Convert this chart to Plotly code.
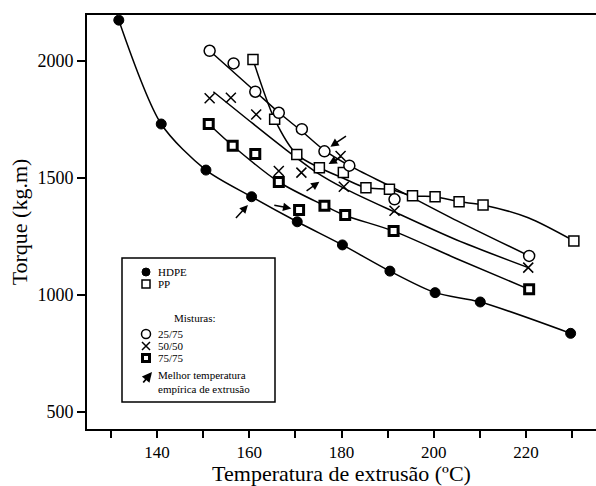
import plotly.graph_objects as go

FONT = "Liberation Serif"

# ---- data ----
hdpe_T = [131.7, 140.9, 150.6, 160.5, 170.4, 180.2, 190.5, 200.3, 210.1, 229.7]
hdpe_tq = [2175, 1731, 1534, 1420, 1313, 1214, 1102, 1010, 970, 836]

pp_T = [160.8, 165.5, 170.3, 175.2, 180.4, 185.3, 190.4, 195.4, 200.3, 205.5, 210.7, 230.4]
pp_tq = [2007, 1751, 1601, 1544, 1524, 1458, 1452, 1424, 1420, 1399, 1385, 1231]
pp_fit_T = [160.8, 165.5, 170.3, 175.2, 180.3, 185.3, 190.4, 195.4, 200.3, 205.5, 210.7, 220.5, 230.4]
pp_fit_tq = [2007, 1751, 1601, 1544, 1500, 1458, 1452, 1424, 1420, 1399, 1385, 1330, 1231]

m2575_T = [151.4, 156.6, 161.3, 166.4, 171.4, 176.3, 181.7, 191.5, 220.7]
m2575_tq = [2044, 1990, 1869, 1779, 1709, 1614, 1553, 1409, 1167]
m2575_fit_T = [151.4, 161.3, 166.4, 171.4, 176.3, 181.6, 191.5, 205.0, 220.7]
m2575_fit_tq = [2044, 1870, 1780, 1700, 1618, 1554, 1456, 1318, 1167]

m5050_T = [151.4, 156.0, 161.5, 166.4, 171.3, 179.8, 180.5, 191.5, 220.5]
m5050_tq = [1841, 1843, 1772, 1530, 1523, 1594, 1463, 1360, 1117]
m5050_fit_T = [152.2, 160.0, 167.7, 174.9, 180.6, 191.5, 205.0, 220.5]
m5050_fit_tq = [1869, 1745, 1625, 1520, 1456, 1355, 1235, 1117]

m7575_T = [151.2, 156.4, 161.3, 166.4, 170.8, 176.3, 180.8, 191.3, 220.7]
m7575_tq = [1731, 1638, 1603, 1483, 1363, 1382, 1342, 1273, 1024]
m7575_fit_T = [151.2, 156.4, 166.4, 176.3, 180.8, 191.3, 205.0, 220.7]
m7575_fit_tq = [1731, 1638, 1483, 1382, 1340, 1273, 1155, 1024]

# "best empirical extrusion temperature" arrows: head and tail (T, torque)
arrow_head_T = [177.6, 177.2, 175.2, 159.7, 169.1]
arrow_head_tq = [1634, 1560, 1484, 1385, 1370]
arrow_tail_T = [181.3, 180.2, 172.1, 156.8, 165.1]
arrow_tail_tq = [1684, 1594, 1441, 1323, 1385]

x_ticks = [130, 140, 150, 160, 170, 180, 190, 200, 210, 220, 230]
x_ticklabels = ["", "140", "", "160", "", "180", "", "200", "", "220", ""]
y_ticks = [500, 1000, 1500, 2000]

legend_labels = ["HDPE", "PP", "25/75", "50/50", "75/75"]

# ---- figure ----
fig = go.Figure()
LW = 1.5
line_style = dict(color="black", width=LW, shape="spline", smoothing=0.8)

for fx, fy in [(hdpe_T, hdpe_tq), (pp_fit_T, pp_fit_tq), (m2575_fit_T, m2575_fit_tq),
               (m5050_fit_T, m5050_fit_tq), (m7575_fit_T, m7575_fit_tq)]:
    fig.add_trace(go.Scatter(x=fx, y=fy, mode="lines", line=line_style,
                             hoverinfo="skip", showlegend=False))

sym_hdpe = dict(symbol="circle", size=10, color="black", line=dict(color="black", width=1))
sym_pp = dict(symbol="square", size=10, color="white", line=dict(color="black", width=1.5))
sym_2575 = dict(symbol="circle", size=11, color="white", line=dict(color="black", width=1.5))
sym_5050 = dict(symbol="x-thin", size=10, color="black", line=dict(color="black", width=1.5))
sym_7575 = dict(symbol="square", size=9, color="white", line=dict(color="black", width=3))

for (mx, my, sym, name) in [(hdpe_T, hdpe_tq, sym_hdpe, "HDPE"), (pp_T, pp_tq, sym_pp, "PP"),
                            (m2575_T, m2575_tq, sym_2575, "25/75"),
                            (m5050_T, m5050_tq, sym_5050, "50/50"),
                            (m7575_T, m7575_tq, sym_7575, "75/75")]:
    fig.add_trace(go.Scatter(x=mx, y=my, mode="markers", marker=sym, name=name,
                             showlegend=False))

# arrows
for hx, hy, tx, ty in zip(arrow_head_T, arrow_head_tq, arrow_tail_T, arrow_tail_tq):
    fig.add_annotation(x=hx, y=hy, ax=tx, ay=ty, xref="x", yref="y", axref="x", ayref="y",
                       text="", showarrow=True, arrowhead=2, arrowsize=1.1,
                       arrowwidth=1.5, arrowcolor="black", standoff=0)

# ---- hand-made legend box ----
def px_x(p):
    return (p - 87) / 509.0

def px_y(p):
    return (429 - p) / 414.0

fig.add_shape(type="rect", xref="paper", yref="paper",
              x0=px_x(122), x1=px_x(275), y0=px_y(402), y1=px_y(258),
              line=dict(color="black", width=1.5), fillcolor="white", layer="below")

LFS = 10
key_y = [272, 284, 334, 346, 358]
key_syms = [sym_hdpe, sym_pp, sym_2575, sym_5050, sym_7575]
for lab, ky, sym in zip(legend_labels, key_y, key_syms):
    s = dict(sym)
    s["size"] = max(sym["size"] - 2, 7)
    fig.add_trace(go.Scatter(x=[px_x(146)], y=[px_y(ky)], mode="markers", marker=s,
                             xaxis="x2", yaxis="y2", showlegend=False, hoverinfo="skip"))
    fig.add_annotation(x=px_x(156), y=px_y(ky), xref="paper", yref="paper", text=lab,
                       showarrow=False, xanchor="left", yanchor="middle",
                       font=dict(family=FONT, size=LFS + 1, color="black"))

fig.add_annotation(x=px_x(195), y=px_y(318), xref="paper", yref="paper", text="Misturas:",
                   showarrow=False, xanchor="center", yanchor="middle",
                   font=dict(family=FONT, size=LFS + 1, color="black"))
fig.add_annotation(x=px_x(156), y=px_y(382), xref="paper", yref="paper",
                   text="Melhor temperatura<br>empírica de extrusão",
                   showarrow=False, xanchor="left", yanchor="middle", align="left",
                   font=dict(family=FONT, size=LFS + 1, color="black"))
fig.add_annotation(x=px_x(152), y=px_y(372), xref="paper", yref="paper", text="",
                   showarrow=True, ax=-10, ay=12, arrowhead=2, arrowsize=1.1,
                   arrowwidth=1.8, arrowcolor="black", standoff=0)

fig.update_layout(
    width=596, height=486,
    margin=dict(l=87, r=0, t=15, b=57),
    paper_bgcolor="white", plot_bgcolor="white",
    font=dict(family=FONT, color="black"),
    showlegend=False,
    xaxis=dict(range=[124.8, 235.2], tickvals=x_ticks, ticktext=x_ticklabels,
               ticks="outside", ticklen=7, tickwidth=2, tickcolor="black",
               showline=True, linewidth=2, linecolor="black", mirror=True,
               showgrid=False, zeroline=False,
               tickfont=dict(family=FONT, size=17, color="black"),
               title=dict(text="Temperatura de extrusão (ºC)", standoff=2,
                          font=dict(family=FONT, size=22, color="black"))),
    yaxis=dict(range=[427, 2197], tickvals=y_ticks,
               ticks="outside", ticklen=8, tickwidth=2, tickcolor="black",
               showline=True, linewidth=2, linecolor="black", mirror=False,
               showgrid=False, zeroline=False,
               tickfont=dict(family=FONT, size=18, color="black"),
               title=dict(text="Torque (kg.m)", standoff=4,
                          font=dict(family=FONT, size=22, color="black"))),
    xaxis2=dict(overlaying="x", range=[0, 1], visible=False, anchor="y2", fixedrange=True),
    yaxis2=dict(overlaying="y", range=[0, 1], visible=False, anchor="x2", fixedrange=True),
)

fig.write_html("out.html")
